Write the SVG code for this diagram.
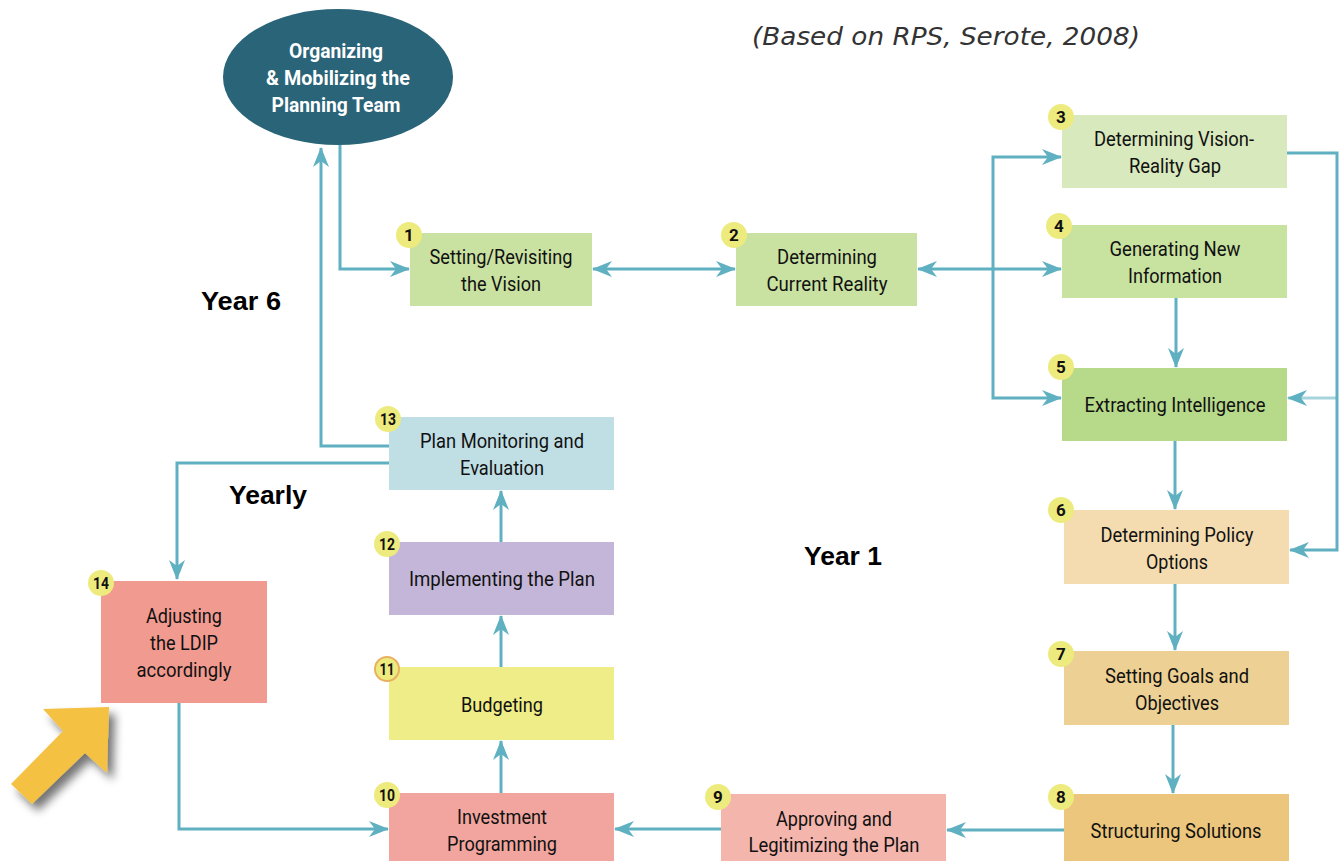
<svg xmlns="http://www.w3.org/2000/svg" width="1340" height="861" viewBox="0 0 1340 861">
  <style>
    .box { stroke: none; }
    .lbl { font-family: "Roboto", "Liberation Sans", sans-serif; font-size: 21px; fill: #111; text-anchor: middle; }
    .oval { font-family: "Roboto", "Liberation Sans", sans-serif; font-weight: bold; font-size: 21px; fill: #fff; text-anchor: middle; }
    .badge { fill: #eeeb7e; }
    .num { font-family: "Roboto", "Liberation Sans", sans-serif; font-weight: bold; font-size: 17px; fill: #111; text-anchor: middle; }
    .year { font-family: "Liberation Sans", Arial, sans-serif; font-weight: bold; font-size: 26px; fill: #000; text-anchor: middle; }
    .cap { font-family: "DejaVu Sans", Verdana, sans-serif; font-style: italic; font-size: 25px; fill: #333; }
    .wire { fill: none; stroke: #5fb0c0; stroke-width: 3; }
  </style>
  <defs>
    <marker id="head" viewBox="0 0 20 16" refX="19" refY="8" markerWidth="20" markerHeight="16" markerUnits="userSpaceOnUse" orient="auto-start-reverse">
      <path d="M0,0 L20,8 L0,16 L6,8 Z" fill="#5fb0c0"/>
    </marker>
    <filter id="shadow" x="-30%" y="-30%" width="170%" height="170%">
      <feGaussianBlur in="SourceAlpha" stdDeviation="5"/>
      <feOffset dx="6" dy="7" result="b"/>
      <feComponentTransfer><feFuncA type="linear" slope="0.55"/></feComponentTransfer>
      <feMerge><feMergeNode/><feMergeNode in="SourceGraphic"/></feMerge>
    </filter>
  </defs>

  <rect width="1340" height="861" fill="#ffffff"/>

  <text class="cap" x="752" y="45" textLength="388" lengthAdjust="spacingAndGlyphs">(Based on RPS, Serote, 2008)</text>

  <!-- connectors -->
  <g id="connectors">
    <polyline class="wire" points="340,145 340,269 409,269" marker-end="url(#head)"/>
    <line class="wire" x1="593" y1="269" x2="735" y2="269" marker-start="url(#head)" marker-end="url(#head)"/>
    <line class="wire" x1="918" y1="269" x2="1061" y2="269" marker-start="url(#head)" marker-end="url(#head)"/>
    <polyline class="wire" points="1061,157 993,157 993,398 1061,398" marker-start="url(#head)" marker-end="url(#head)"/>
    <line class="wire" x1="1176" y1="298" x2="1176" y2="367" marker-end="url(#head)"/>
    <polyline class="wire" points="1287,153 1337,153 1337,550 1290,550" marker-end="url(#head)"/>
    <line class="wire" x1="1337" y1="398" x2="1288" y2="398" stroke-opacity="0.55" marker-end="url(#head)"/>
    <line class="wire" x1="1175" y1="441" x2="1175" y2="509" marker-end="url(#head)"/>
    <line class="wire" x1="1175" y1="584" x2="1175" y2="650" marker-end="url(#head)"/>
    <line class="wire" x1="1173" y1="725" x2="1173" y2="793" marker-end="url(#head)"/>
    <line class="wire" x1="1064" y1="830" x2="947" y2="830" marker-end="url(#head)"/>
    <line class="wire" x1="721" y1="829" x2="615" y2="829" marker-end="url(#head)"/>
    <line class="wire" x1="501" y1="793" x2="501" y2="741" marker-end="url(#head)"/>
    <line class="wire" x1="501" y1="667" x2="501" y2="616" marker-end="url(#head)"/>
    <line class="wire" x1="501" y1="542" x2="501" y2="491" marker-end="url(#head)"/>
    <polyline class="wire" points="389,446 321,446 321,148" marker-end="url(#head)"/>
    <polyline class="wire" points="389,463 177,463 177,579" marker-end="url(#head)"/>
    <polyline class="wire" points="179,703 179,829 388,829" marker-end="url(#head)"/>
  </g>

  <!-- planning team -->
  <g id="team">
    <ellipse cx="338" cy="77" rx="115" ry="68" fill="#2a6478"/>
    <text class="oval" x="336" y="58" textLength="94" lengthAdjust="spacingAndGlyphs">Organizing</text>
    <text class="oval" x="338" y="85" textLength="144" lengthAdjust="spacingAndGlyphs">&amp; Mobilizing the</text>
    <text class="oval" x="336" y="112" textLength="129" lengthAdjust="spacingAndGlyphs">Planning Team</text>
  </g>

  <g id="n1">
    <rect class="box" x="410" y="233" width="182" height="73" fill="#c9e2a2"/>
    <circle class="badge" cx="409" cy="235" r="13"/><text class="num" x="409" y="241">1</text>
    <text class="lbl" x="501" y="264" textLength="143" lengthAdjust="spacingAndGlyphs">Setting/Revisiting</text>
    <text class="lbl" x="501" y="291" textLength="80" lengthAdjust="spacingAndGlyphs">the Vision</text>
  </g>
  <g id="n2">
    <rect class="box" x="736" y="233" width="181" height="73" fill="#c9e2a2"/>
    <circle class="badge" cx="734" cy="235" r="13"/><text class="num" x="734" y="241">2</text>
    <text class="lbl" x="827" y="264" textLength="100" lengthAdjust="spacingAndGlyphs">Determining</text>
    <text class="lbl" x="827" y="291" textLength="121" lengthAdjust="spacingAndGlyphs">Current Reality</text>
  </g>
  <g id="n3">
    <rect class="box" x="1062" y="115" width="225" height="73" fill="#d8e9bd"/>
    <circle class="badge" cx="1061" cy="117" r="13"/><text class="num" x="1061" y="123">3</text>
    <text class="lbl" x="1174" y="146" textLength="160" lengthAdjust="spacingAndGlyphs">Determining Vision-</text>
    <text class="lbl" x="1175" y="173" textLength="92" lengthAdjust="spacingAndGlyphs">Reality Gap</text>
  </g>
  <g id="n4">
    <rect class="box" x="1062" y="225" width="225" height="73" fill="#c8e2a0"/>
    <circle class="badge" cx="1059" cy="226" r="13"/><text class="num" x="1059" y="232">4</text>
    <text class="lbl" x="1175" y="256" textLength="131" lengthAdjust="spacingAndGlyphs">Generating New</text>
    <text class="lbl" x="1175" y="283" textLength="94" lengthAdjust="spacingAndGlyphs">Information</text>
  </g>
  <g id="n5">
    <rect class="box" x="1062" y="368" width="225" height="73" fill="#b6d98a"/>
    <circle class="badge" cx="1061" cy="367" r="13"/><text class="num" x="1061" y="373">5</text>
    <text class="lbl" x="1175" y="412" textLength="181" lengthAdjust="spacingAndGlyphs">Extracting Intelligence</text>
  </g>
  <g id="n6">
    <rect class="box" x="1064" y="510" width="225" height="74" fill="#f4dcb0"/>
    <circle class="badge" cx="1061" cy="510" r="13"/><text class="num" x="1061" y="516">6</text>
    <text class="lbl" x="1177" y="542" textLength="153" lengthAdjust="spacingAndGlyphs">Determining Policy</text>
    <text class="lbl" x="1177" y="569" textLength="62" lengthAdjust="spacingAndGlyphs">Options</text>
  </g>
  <g id="n7">
    <rect class="box" x="1064" y="651" width="225" height="74" fill="#edd093"/>
    <circle class="badge" cx="1061" cy="654" r="13"/><text class="num" x="1061" y="660">7</text>
    <text class="lbl" x="1177" y="683" textLength="144" lengthAdjust="spacingAndGlyphs">Setting Goals and</text>
    <text class="lbl" x="1177" y="710" textLength="84" lengthAdjust="spacingAndGlyphs">Objectives</text>
  </g>
  <g id="n8">
    <rect class="box" x="1064" y="794" width="225" height="67" fill="#ebc67c"/>
    <circle class="badge" cx="1061" cy="797" r="13"/><text class="num" x="1061" y="803">8</text>
    <text class="lbl" x="1176" y="838" textLength="171" lengthAdjust="spacingAndGlyphs">Structuring Solutions</text>
  </g>
  <g id="n9">
    <rect class="box" x="721" y="794" width="225" height="67" fill="#f4b5ad"/>
    <circle class="badge" cx="718" cy="797" r="13"/><text class="num" x="718" y="803">9</text>
    <text class="lbl" x="834" y="826" textLength="116" lengthAdjust="spacingAndGlyphs">Approving and</text>
    <text class="lbl" x="834" y="852" textLength="171" lengthAdjust="spacingAndGlyphs">Legitimizing the Plan</text>
  </g>
  <g id="n10">
    <rect class="box" x="389" y="793" width="225" height="68" fill="#f2a59e"/>
    <circle class="badge" cx="387" cy="795" r="13"/><text class="num" x="387" y="801" textLength="16" lengthAdjust="spacingAndGlyphs">10</text>
    <text class="lbl" x="502" y="824" textLength="90" lengthAdjust="spacingAndGlyphs">Investment</text>
    <text class="lbl" x="502" y="851" textLength="110" lengthAdjust="spacingAndGlyphs">Programming</text>
  </g>
  <g id="n11">
    <rect class="box" x="389" y="667" width="225" height="73" fill="#eeed88"/>
    <circle class="badge" cx="387" cy="669" r="12" stroke="#e8b060" stroke-width="2"/><text class="num" x="387" y="675" textLength="15" lengthAdjust="spacingAndGlyphs">11</text>
    <text class="lbl" x="502" y="712" textLength="82" lengthAdjust="spacingAndGlyphs">Budgeting</text>
  </g>
  <g id="n12">
    <rect class="box" x="389" y="542" width="225" height="73" fill="#c4b6d8"/>
    <circle class="badge" cx="387" cy="544" r="13"/><text class="num" x="387" y="550" textLength="16" lengthAdjust="spacingAndGlyphs">12</text>
    <text class="lbl" x="502" y="586" textLength="186" lengthAdjust="spacingAndGlyphs">Implementing the Plan</text>
  </g>
  <g id="n13">
    <rect class="box" x="389" y="417" width="225" height="73" fill="#c0dfe4"/>
    <circle class="badge" cx="388" cy="419" r="13"/><text class="num" x="388" y="425" textLength="16" lengthAdjust="spacingAndGlyphs">13</text>
    <text class="lbl" x="502" y="448" textLength="164" lengthAdjust="spacingAndGlyphs">Plan Monitoring and</text>
    <text class="lbl" x="502" y="475" textLength="84" lengthAdjust="spacingAndGlyphs">Evaluation</text>
  </g>
  <g id="n14">
    <rect class="box" x="101" y="581" width="166" height="122" fill="#f19a90"/>
    <circle class="badge" cx="101" cy="583" r="13"/><text class="num" x="101" y="589" textLength="16" lengthAdjust="spacingAndGlyphs">14</text>
    <text class="lbl" x="184" y="623" textLength="76" lengthAdjust="spacingAndGlyphs">Adjusting</text>
    <text class="lbl" x="184" y="650" textLength="68" lengthAdjust="spacingAndGlyphs">the LDIP</text>
    <text class="lbl" x="184" y="677" textLength="95" lengthAdjust="spacingAndGlyphs">accordingly</text>
  </g>

  <!-- period labels -->
  <text class="year" x="241" y="310" textLength="80" lengthAdjust="spacingAndGlyphs">Year 6</text>
  <text class="year" x="268" y="504" textLength="78" lengthAdjust="spacingAndGlyphs">Yearly</text>
  <text class="year" x="843" y="565" textLength="78" lengthAdjust="spacingAndGlyphs">Year 1</text>

  <!-- pointer arrow -->
  <polygon points="43,709 109,707 107,773 85,753 32,804 11,784 63,731" fill="#f4c142" filter="url(#shadow)"/>
</svg>
